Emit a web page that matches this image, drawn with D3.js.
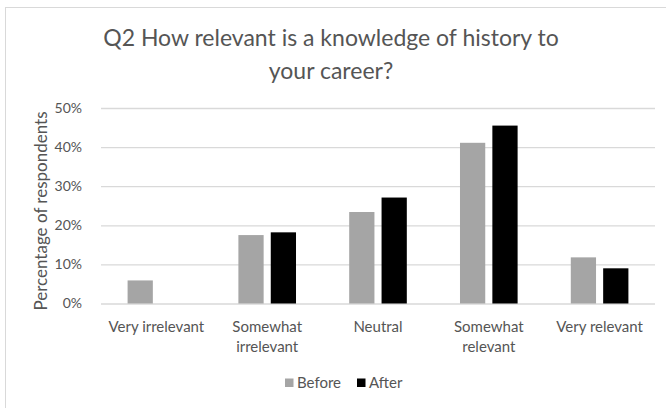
<!DOCTYPE html>
<html>
<head>
<meta charset="utf-8">
<script src="https://cdn.jsdelivr.net/npm/d3@7"></script>
<style>
  html, body { margin: 0; padding: 0; background: #fff; }
  svg { display: block; }
</style>
</head>
<body>
<div id="chart"></div>
<script>
// Chart data
const categories = ['Very irrelevant', 'Somewhat irrelevant', 'Neutral', 'Somewhat relevant', 'Very relevant'];
const categoryLines = [['Very irrelevant'], ['Somewhat', 'irrelevant'], ['Neutral'], ['Somewhat', 'relevant'], ['Very relevant']];
const series = ['Before', 'After'];
const before = [0.059, 0.175, 0.234, 0.411, 0.118];
const after = [0, 0.182, 0.271, 0.455, 0.090];
const yTicks = [0, 0.1, 0.2, 0.3, 0.4, 0.5];
const titleLines = ['Q2 How relevant is a knowledge of history to', 'your career?'];

const Width = 666;
const Height = 408;
const Font = 'Lato, "Open Sans", sans-serif';
const TextColor = '#555';
const GridColor = '#d9d9d9';
const Colors = { Before: '#a5a5a5', After: '#000000' };
const Plot = { Left: 101, Right: 655, Top: 108, Bottom: 303.5 };

const svg = d3.select('#chart')
    .append('svg')
    .attr('width', Width)
    .attr('height', Height)
    .attr('viewBox', [0, 0, Width, Height]);

svg.append('rect')
    .attr('width', Width)
    .attr('height', Height)
    .attr('fill', '#fff');

// outer chart border (runs off the right and bottom edges)
svg.append('rect')
    .attr('x', 5.5)
    .attr('y', 7.5)
    .attr('width', Width)
    .attr('height', Height)
    .attr('fill', 'none')
    .attr('stroke', GridColor);

// title
svg.append('g')
    .attr('font-family', Font)
    .attr('font-size', 23)
    .attr('fill', TextColor)
    .attr('text-anchor', 'middle')
    .selectAll('text')
    .data(titleLines)
    .join('text')
    .attr('x', 331)
    .attr('y', (d, i) => 46 + i * 33)
    .text(d => d);

const y = d3.scaleLinear()
    .domain([0, 0.5])
    .range([Plot.Bottom, Plot.Top]);

const x0 = d3.scaleBand()
    .domain(categories)
    .range([Plot.Left, Plot.Right])
    .paddingInner(0.48)
    .paddingOuter(0.24);

const x1 = d3.scaleBand()
    .domain(series)
    .range([0, x0.bandwidth()])
    .paddingInner(0.22);

// gridlines and y labels
const yAxis = d3.axisLeft(y)
    .tickValues(yTicks)
    .tickFormat(d3.format('.0%'))
    .tickSize(-(Plot.Right - Plot.Left))
    .tickPadding(19);

const yg = svg.append('g')
    .attr('transform', `translate(${Plot.Left},0)`)
    .call(yAxis);
yg.select('.domain').remove();
yg.selectAll('.tick line')
    .attr('stroke', GridColor)
    .attr('stroke-width', 1.3);
yg.selectAll('.tick text')
    .attr('font-family', Font)
    .attr('font-size', 14)
    .attr('fill', TextColor);

// y axis title
svg.append('text')
    .attr('transform', `translate(47,211) rotate(-90)`)
    .attr('text-anchor', 'middle')
    .attr('font-family', Font)
    .attr('font-size', 17)
    .attr('fill', TextColor)
    .text('Percentage of respondents');

// bars
const rows = categories.map((c, i) => ({ category: c, values: [before[i], after[i]] }));

svg.append('g')
    .selectAll('g')
    .data(rows)
    .join('g')
    .attr('transform', d => `translate(${x0(d.category)},0)`)
    .selectAll('rect')
    .data(d => d.values.map((v, j) => ({ key: series[j], value: v })))
    .join('rect')
    .attr('x', d => x1(d.key))
    .attr('y', d => y(d.value))
    .attr('width', x1.bandwidth())
    .attr('height', d => y(0) - y(d.value))
    .attr('fill', d => Colors[d.key]);

// category labels
svg.append('g')
    .attr('font-family', Font)
    .attr('font-size', 15)
    .attr('fill', TextColor)
    .attr('text-anchor', 'middle')
    .selectAll('text')
    .data(categories)
    .join('text')
    .attr('x', d => x0(d) + x0.bandwidth() / 2)
    .attr('y', 332)
    .selectAll('tspan')
    .data((d, i) => categoryLines[i])
    .join('tspan')
    .attr('x', function () { return d3.select(this.parentNode).attr('x'); })
    .attr('dy', (d, i) => (i === 0 ? 0 : 19.5))
    .text(d => d);

// legend
const legend = svg.append('g')
    .attr('font-family', Font)
    .attr('font-size', 15)
    .attr('fill', TextColor);

const legendX = d3.scaleOrdinal().domain(series).range([285, 357]);

legend.selectAll('rect')
    .data(series)
    .join('rect')
    .attr('x', d => legendX(d))
    .attr('y', 378.5)
    .attr('width', 8.5)
    .attr('height', 8.5)
    .attr('fill', d => Colors[d]);

legend.selectAll('text')
    .data(series)
    .join('text')
    .attr('x', d => legendX(d) + 12)
    .attr('y', 388)
    .text(d => d);
</script>
</body>
</html>
